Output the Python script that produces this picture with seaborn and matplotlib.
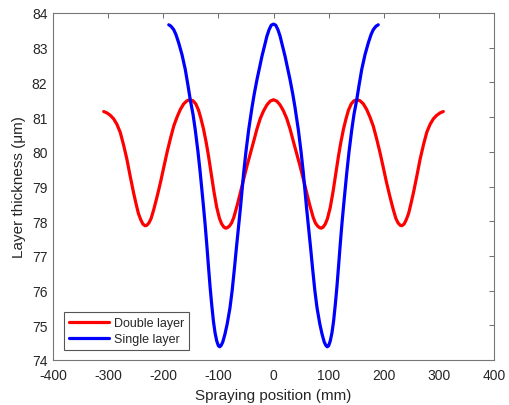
import matplotlib
matplotlib.use("Agg")
import matplotlib.pyplot as plt
import seaborn as sns
import pandas as pd

double_x = [-308, -302, -296, -290, -284, -278, -272, -266, -260, -254,
            -249, -245, -241, -237, -233, -230, -226, -222, -217, -211,
            -205, -199, -193, -187, -181, -175, -169, -163, -157, -152,
            -146, -141, -136, -132, -127, -122, -118, -113, -108, -103,
            -98, -94, -90, -87, -84, -80, -76, -72, -66, -60,
            -54, -48, -42, -36, -30, -24, -18, -12, -6,
            0, 6, 12, 18, 24, 30, 36, 42, 48, 54,
            60, 66, 72, 76, 80, 84, 87, 90, 94, 98,
            103, 108, 113, 118, 122, 127, 132, 136, 141, 146,
            152, 157, 163, 169, 175, 181, 187, 193, 199, 205,
            211, 217, 222, 226, 230, 233, 237, 241, 245, 249,
            254, 260, 266, 272, 278, 284, 290, 296, 302, 308]
double_y = [81.16, 81.12, 81.05, 80.95, 80.79, 80.56, 80.20, 79.79, 79.30, 78.83,
            78.48, 78.22, 78.05, 77.92, 77.87, 77.88, 77.95, 78.08, 78.35, 78.72,
            79.12, 79.56, 79.99, 80.38, 80.74, 81.00, 81.22, 81.38, 81.47, 81.50,
            81.47, 81.38, 81.20, 80.98, 80.66, 80.26, 79.89, 79.37, 78.85, 78.40,
            78.08, 77.92, 77.83, 77.80, 77.81, 77.86, 77.95, 78.11, 78.45, 78.83,
            79.22, 79.60, 79.95, 80.30, 80.66, 80.96, 81.18, 81.35, 81.46,
            81.50, 81.46, 81.35, 81.18, 80.96, 80.66, 80.30, 79.95, 79.60, 79.22,
            78.83, 78.45, 78.11, 77.95, 77.86, 77.81, 77.80, 77.83, 77.92, 78.08,
            78.40, 78.85, 79.37, 79.89, 80.26, 80.66, 80.98, 81.20, 81.38, 81.47,
            81.50, 81.47, 81.38, 81.22, 81.00, 80.74, 80.38, 79.99, 79.56, 79.12,
            78.72, 78.35, 78.08, 77.95, 77.88, 77.87, 77.92, 78.05, 78.22, 78.48,
            78.83, 79.30, 79.79, 80.20, 80.56, 80.79, 80.95, 81.05, 81.12, 81.16]

single_x = [-190, -186, -181, -177, -172, -166, -160, -155, -151, -146,
            -142, -137, -133, -130, -127, -124, -121, -118, -115, -112,
            -109, -106, -103, -100, -97.5, -95, -92, -88, -84, -79,
            -75, -71, -67.5, -64, -60, -57, -54, -50, -45, -39,
            -35, -30, -25, -21, -16, -12, -8, -4,
            0, 4, 8, 12, 16, 21, 25, 30, 35, 39,
            45, 50, 54, 57, 60, 64, 67.5, 71, 75, 79,
            84, 88, 92, 95, 97.5, 100, 103, 106, 109, 112,
            115, 118, 121, 124, 127, 130, 133, 137, 142, 146,
            151, 155, 160, 166, 172, 177, 181, 186, 190]
single_y = [83.66, 83.62, 83.52, 83.38, 83.14, 82.80, 82.37, 81.90, 81.50, 81.08,
            80.64, 80.00, 79.41, 78.92, 78.42, 77.90, 77.32, 76.70, 76.10, 75.58,
            75.12, 74.78, 74.55, 74.41, 74.38, 74.42, 74.52, 74.75, 75.04, 75.50,
            76.00, 76.62, 77.20, 77.75, 78.38, 78.90, 79.41, 80.00, 80.64, 81.28,
            81.66, 82.08, 82.45, 82.75, 83.07, 83.33, 83.52, 83.65,
            83.68, 83.65, 83.52, 83.33, 83.07, 82.75, 82.45, 82.08, 81.66, 81.28,
            80.64, 80.00, 79.41, 78.90, 78.38, 77.75, 77.20, 76.62, 76.00, 75.50,
            75.04, 74.75, 74.52, 74.42, 74.38, 74.41, 74.55, 74.78, 75.12, 75.58,
            76.10, 76.70, 77.32, 77.90, 78.42, 78.92, 79.41, 80.00, 80.64, 81.08,
            81.50, 81.90, 82.37, 82.80, 83.14, 83.38, 83.52, 83.62, 83.66]

series_names = ["Double layer", "Single layer"]
x_ticks = [-400, -300, -200, -100, 0, 100, 200, 300, 400]
y_ticks = [74, 75, 76, 77, 78, 79, 80, 81, 82, 83, 84]

df = pd.concat([
    pd.DataFrame({"x": double_x, "y": double_y, "series": series_names[0]}),
    pd.DataFrame({"x": single_x, "y": single_y, "series": series_names[1]}),
], ignore_index=True)

sns.set_theme(style="white")
plt.rcParams["font.family"] = ["Liberation Sans", "DejaVu Sans"]

fig = plt.figure(figsize=(5.10, 4.06), dpi=100)
ax = fig.add_axes([53/510, 45/406, 441/510, 347/406])

sns.lineplot(data=df, x="x", y="y", hue="series", hue_order=series_names,
             palette={"Double layer": "#ff0000", "Single layer": "#0000ff"},
             estimator=None, sort=False, linewidth=2.3, ax=ax,
             solid_joinstyle="round", solid_capstyle="round")

ax.set_xlim(-400, 400)
ax.set_ylim(74, 84)
ax.set_xticks(x_ticks)
ax.set_yticks(y_ticks)
ax.set_xticklabels([str(t) for t in x_ticks])
ax.set_yticklabels([str(t) for t in y_ticks])
ax.set_xlabel("Spraying position (mm)", fontsize=11, color="#262626", labelpad=4)
ax.set_ylabel("Layer thickness (μm)", fontsize=11, color="#262626", labelpad=4)
ax.tick_params(axis="both", direction="in", length=3.5, width=0.6, color="#555555",
               labelsize=10, labelcolor="#262626", top=True, right=True)
ax.tick_params(axis="x", pad=6)
ax.tick_params(axis="y", pad=4)
for s in ax.spines.values():
    s.set_color("#777777")
    s.set_linewidth(0.8)
    s.set_visible(True)

leg = ax.legend(loc="lower left", bbox_to_anchor=(0.025, 0.029), borderaxespad=0,
                fontsize=9, handlelength=3.2, handletextpad=0.4, borderpad=0.4,
                labelspacing=0.3, fancybox=False, framealpha=1, title=None)
leg.get_frame().set_edgecolor("#555555")
leg.get_frame().set_linewidth(0.8)

fig.savefig("out.png", dpi=100)
